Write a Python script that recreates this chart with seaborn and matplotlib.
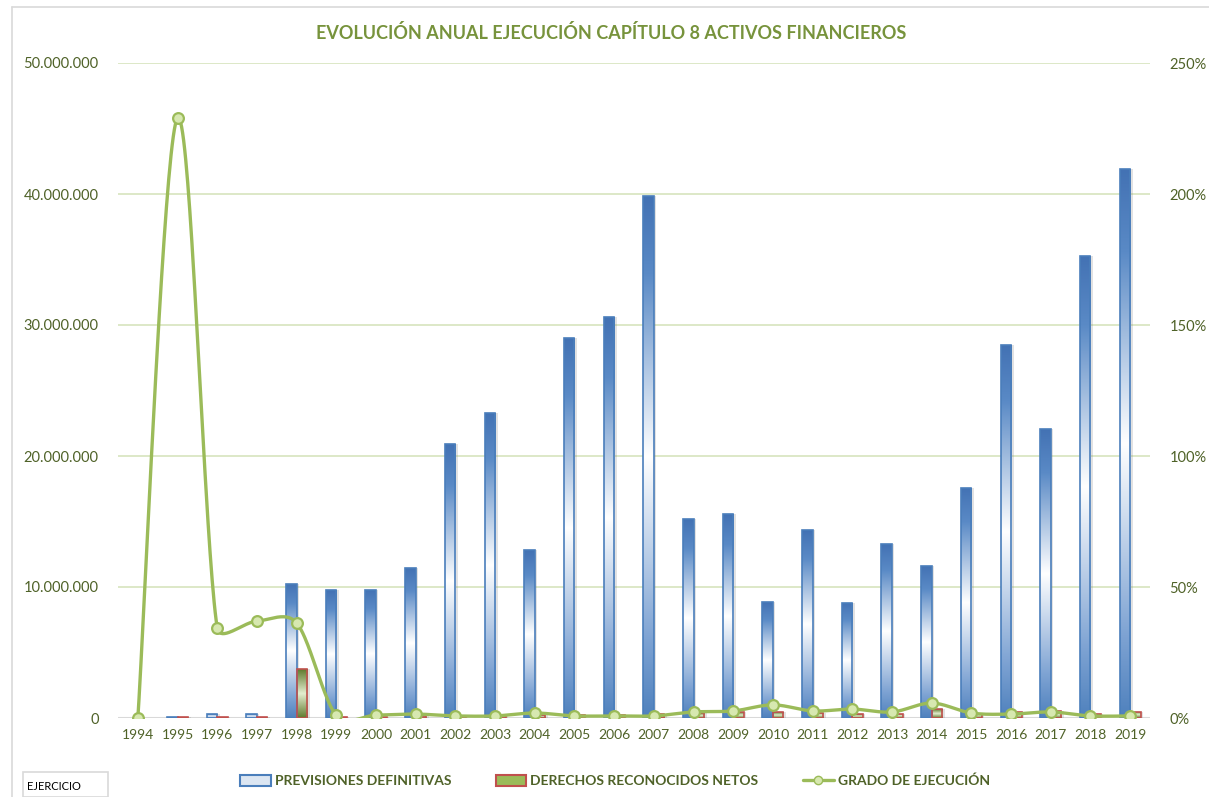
import numpy as np
import pandas as pd
import matplotlib
matplotlib.use("Agg")
import matplotlib.pyplot as plt
import seaborn as sns
from matplotlib.patches import Patch, Rectangle
from matplotlib.lines import Line2D
from matplotlib.colors import LinearSegmentedColormap
from matplotlib.ticker import FuncFormatter, MultipleLocator

# ---- data -------------------------------------------------------------
ejercicios = [str(y) for y in range(1994, 2020)]
previsiones = [0, 40000, 300000, 300000, 10230000, 9770000, 9800000, 11450000,
               20900000, 23300000, 12800000, 29000000, 30600000, 39850000,
               15200000, 15570000, 8850000, 14350000, 8780000, 13280000,
               11600000, 17560000, 28470000, 22060000, 35300000, 41900000]
derechos = [0, 92000, 103000, 111000, 3720000, 100000, 110000, 170000,
            170000, 190000, 240000, 230000, 250000, 320000,
            350000, 420000, 440000, 390000, 300000, 310000,
            660000, 330000, 420000, 500000, 280000, 480000]
grado = [0.0, 229.0, 34.4, 37.0, 36.3, 1.0, 1.1, 1.5, 0.8, 0.8, 1.9, 0.8, 0.8,
         0.8, 2.3, 2.7, 5.0, 2.7, 3.4, 2.3, 5.7, 1.9, 1.5, 2.3, 0.8, 0.8]

serie_prev = "PREVISIONES DEFINITIVAS"
serie_der = "DERECHOS RECONOCIDOS NETOS"
serie_grado = "GRADO DE EJECUCIÓN"

# ---- colours ------------------------------------------------------------
BLUE = "#4a7ebb"
GREEN = "#9bbb59"
GREEN_DARK = "#5f7a2c"
GREEN_LIGHT = "#e3edcf"
RED_EDGE = "#c0504d"
OLIVE = "#4f6228"
TITLE_GREEN = "#77933c"
GRID_GREEN = "#d7e4bd"

sns.set_theme(style="white")
plt.rcParams['font.family'] = ['Lato', 'DejaVu Sans']

W, H = 1209, 797
fig = plt.figure(figsize=(W / 100, H / 100), dpi=100)
ax = fig.add_axes([118 / W, 1 - 718 / H, (1150 - 118) / W, (718 - 63) / H])

df = pd.DataFrame({
    "ejercicio": ejercicios * 2,
    "serie": [serie_prev] * len(ejercicios) + [serie_der] * len(ejercicios),
    "valor": previsiones + derechos,
})
sns.barplot(data=df, x="ejercicio", y="valor", hue="serie", ax=ax,
            width=0.53, saturation=1, palette=[BLUE, GREEN], legend=False,
            zorder=3)

ax.set_xlim(-0.5, len(ejercicios) - 0.5)
ax.set_ylim(0, 50_000_000)
ax.autoscale(False)

cm_blue = LinearSegmentedColormap.from_list(
    "azul", [(0.0, "#4372b4"), (0.15, "#5a8ac6"), (0.5, "#ffffff"),
             (0.85, "#7ea3d3"), (1.0, "#4f81bd")])
cm_green = LinearSegmentedColormap.from_list(
    "verde", [(0.0, GREEN_DARK), (0.5, GREEN_LIGHT), (1.0, GREEN_DARK)])

grad = np.linspace(0, 1, 256)[:, None]
shadow_dx = 2.5 / 39.7
for container, cmap, edge in [(ax.containers[0], cm_blue, BLUE),
                              (ax.containers[1], cm_green, RED_EDGE)]:
    for bar in container:
        x0, w, h = bar.get_x(), bar.get_width(), bar.get_height()
        if h <= 0:
            bar.set_visible(False)
            continue
        bar.set_facecolor("none")
        bar.set_edgecolor(edge)
        bar.set_linewidth(1.2)
        bar.set_zorder(4)
        # soft drop shadow on the right side
        ax.add_patch(Rectangle((x0 + shadow_dx, 0), w, h, facecolor="#7f7f7f",
                               edgecolor="none", alpha=0.22, zorder=2))
        im = ax.imshow(grad, cmap=cmap, aspect="auto", origin="upper",
                       extent=[x0, x0 + w, 0, h], zorder=3, interpolation="bilinear")
        im.set_clip_path(bar)

ax.set_xlim(-0.5, len(ejercicios) - 0.5)
ax.set_ylim(0, 50_000_000)

ax.yaxis.set_major_locator(MultipleLocator(10_000_000))
ax.yaxis.set_major_formatter(FuncFormatter(lambda v, p: f"{int(v):,}".replace(",", ".")))
ax.grid(axis="y", color=GRID_GREEN, linewidth=1.2, zorder=0)
ax.grid(axis="x", visible=False)
ax.axhline(0, color="#d9d9d9", linewidth=1.5, zorder=1)
for s in ax.spines.values():
    s.set_visible(False)
ax.tick_params(axis="both", length=0, colors=OLIVE, labelsize=10.5)
ax.tick_params(axis="x", pad=8, labelsize=10)
ax.tick_params(axis="y", pad=14)
ax.set_xlabel("")
ax.set_ylabel("")

# ---- execution rate on the secondary axis (smoothed line) --------------
ax2 = ax.twinx()
ax2.set_ylim(0, 250)
ax2.yaxis.set_major_locator(MultipleLocator(50))
ax2.yaxis.set_major_formatter(FuncFormatter(lambda v, p: f"{int(v)}%"))
for s in ax2.spines.values():
    s.set_visible(False)
ax2.tick_params(axis="y", length=0, colors=OLIVE, labelsize=10.5, pad=14)
ax2.grid(False)


def smooth_curve(xs, ys, sx, sy, k=0.4, n=40):
    """Bezier spline through the points; control arms are limited by the
    length of the neighbouring segment (measured in screen pixels)."""
    pts = np.column_stack([np.asarray(xs) * sx, np.asarray(ys) * sy]).astype(float)
    m = len(pts)
    tang = np.zeros_like(pts)
    for i in range(m):
        a = pts[max(i - 1, 0)]
        b = pts[min(i + 1, m - 1)]
        tang[i] = (b - a) / 6
    t = np.linspace(0, 1, n)[:, None]
    segs = []
    for i in range(m - 1):
        p1, p2 = pts[i], pts[i + 1]
        seg = np.linalg.norm(p2 - p1)
        a1 = tang[i]
        a2 = tang[i + 1]
        l1, l2 = np.linalg.norm(a1), np.linalg.norm(a2)
        if l1 > k * seg and l1 > 0:
            a1 = a1 / l1 * k * seg
        if l2 > k * seg and l2 > 0:
            a2 = a2 / l2 * k * seg
        c1 = p1 + a1
        c2 = p2 - a2
        segs.append((1 - t) ** 3 * p1 + 3 * (1 - t) ** 2 * t * c1
                    + 3 * (1 - t) * t ** 2 * c2 + t ** 3 * p2)
    out = np.vstack(segs)
    return out[:, 0] / sx, out[:, 1] / sy


xpos = np.arange(len(ejercicios))
px_per_cat = (1150 - 118) / len(ejercicios)
px_per_pct = (718 - 63) / 250
cx, cy = smooth_curve(xpos, grado, px_per_cat, px_per_pct)
ax2.plot(cx, cy, color=GREEN, linewidth=2.4, zorder=5, solid_capstyle="round")
sns.scatterplot(x=xpos, y=grado, ax=ax2, s=60, color="#d7e8b0",
                edgecolor=GREEN, linewidth=1.6, zorder=6, legend=False)
ax2.set_xlim(-0.5, len(ejercicios) - 0.5)
ax2.set_ylim(0, 250)

# ---- title, legend and frame -------------------------------------------
fig.text(611 / W, 1 - 33 / H, "EVOLUCIÓN ANUAL EJECUCIÓN CAPÍTULO 8 ACTIVOS FINANCIEROS",
         ha="center", va="center", color=TITLE_GREEN, fontsize=13, fontweight="bold")

handles = [
    Patch(facecolor="#dce6f2", edgecolor=BLUE, linewidth=1.5),
    Patch(facecolor=GREEN, edgecolor=RED_EDGE, linewidth=1.5),
    Line2D([0], [0], color=GREEN, linewidth=2.4, marker="o", markersize=6,
           markerfacecolor="#d7e8b0", markeredgecolor=GREEN),
]
leg = fig.legend(handles, [serie_prev, serie_der, serie_grado], loc="center",
                 bbox_to_anchor=(615 / W, 1 - 781 / H), ncol=3, frameon=False,
                 handlelength=2.2, handleheight=0.9, handletextpad=0.3,
                 columnspacing=3.2, prop={"weight": "bold", "size": 10})
for t in leg.get_texts():
    t.set_color(OLIVE)

fig.add_artist(Rectangle((23 / W, 0), 85 / W, 25 / H, transform=fig.transFigure,
                         facecolor="white", edgecolor="#d9d9d9", linewidth=1.2))
fig.text(27 / W, 1 - 786 / H, "EJERCICIO", ha="left", va="center",
         fontsize=8, color="black")

fig.add_artist(Line2D([12 / W, 12 / W], [0, 1 - 7 / H], transform=fig.transFigure,
                      color="#d9d9d9", linewidth=1.2))
fig.add_artist(Line2D([12 / W, 1], [1 - 7 / H, 1 - 7 / H], transform=fig.transFigure,
                      color="#d9d9d9", linewidth=1.2))

fig.savefig("out.png", dpi=100)
